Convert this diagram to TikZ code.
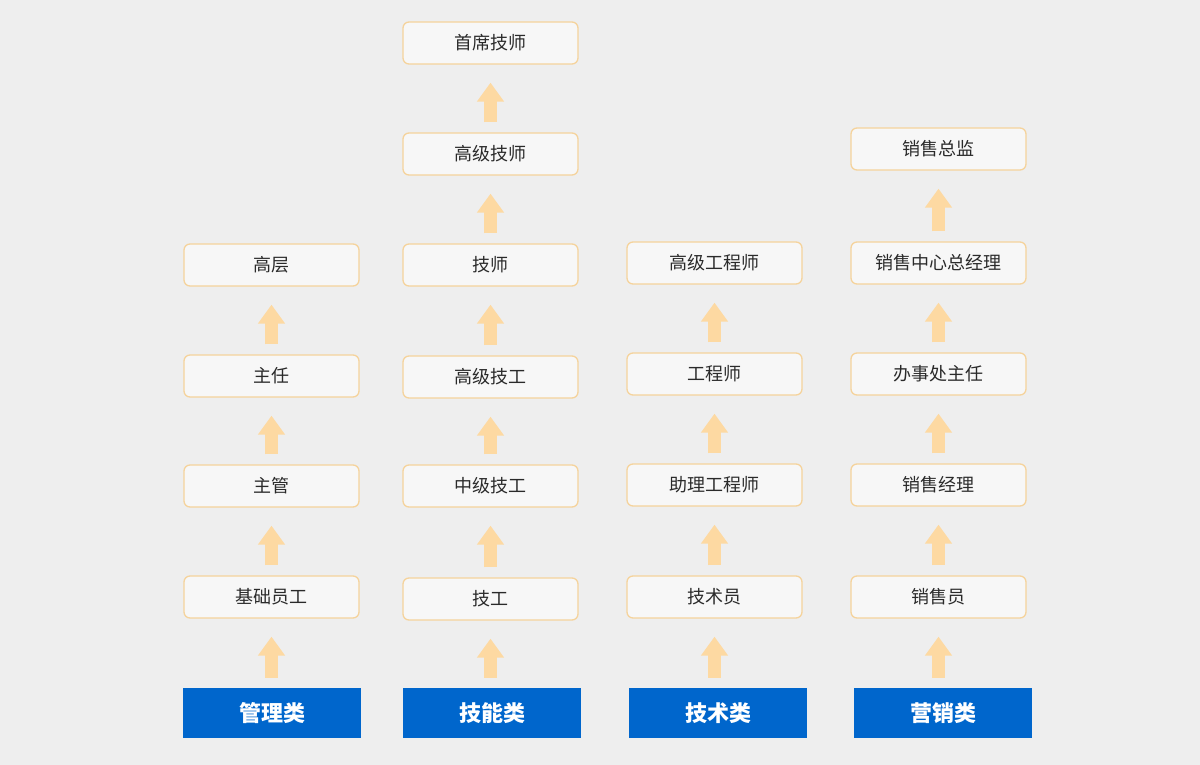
\documentclass[tikz,border=0pt]{standalone}
\usepackage{fontspec}
\newfontfamily\cjk{Noto Sans CJK SC}
\usetikzlibrary{arrows.meta}

\definecolor{bgGray}{HTML}{EEEEEE}
\definecolor{boxFill}{HTML}{F7F7F7}
\definecolor{boxLine}{HTML}{F5D39C}
\definecolor{arrowTan}{HTML}{FDD9A2}
\definecolor{headBlue}{HTML}{0066CC}
\definecolor{txtGray}{HTML}{2A2A2A}

\tikzset{
  rank/.style={rectangle, rounded corners=6pt, draw=boxLine, line width=1.3pt, fill=boxFill,
    minimum width=175pt, minimum height=42pt, inner sep=0pt, text=txtGray,
    font=\cjk\fontsize{18}{21}\selectfont},
  track/.style={rectangle, fill=headBlue, minimum width=178pt, minimum height=50pt,
    inner sep=0pt, text=white, font=\cjk\bfseries\fontsize{22}{26}\selectfont},
  promote/.style={draw=arrowTan, line width=13pt, -{Triangle[width=26pt,length=19pt]},
    shorten >=18pt, shorten <=10pt}
}

\begin{document}
\begin{tikzpicture}[x=1pt, y=-1pt]
                    \fill[bgGray] (0,0) rectangle (1200,765);
                    \useasboundingbox (0,0) rectangle (1200,765);
                    % headers
                    \node[track] (G) at (272, 713) {管理类};
                    \node[track] (J) at (492, 713) {技能类};
                    \node[track] (S) at (718, 713) {技术类};
                    \node[track] (Y) at (943, 713) {营销类};
                    % 管理类
                    \node[rank] (g1) at (271.5, 597) {基础员工};
                    \node[rank] (g2) at (271.5, 486) {主管};
                    \node[rank] (g3) at (271.5, 376) {主任};
                    \node[rank] (g4) at (271.5, 265) {高层};
                    % 技能类
                    \node[rank] (j1) at (490.5, 599) {技工};
                    \node[rank] (j2) at (490.5, 486) {中级技工};
                    \node[rank] (j3) at (490.5, 377) {高级技工};
                    \node[rank] (j4) at (490.5, 265) {技师};
                    \node[rank] (j5) at (490.5, 154) {高级技师};
                    \node[rank] (j6) at (490.5, 43) {首席技师};
                    % 技术类
                    \node[rank] (s1) at (714.5, 597) {技术员};
                    \node[rank] (s2) at (714.5, 485) {助理工程师};
                    \node[rank] (s3) at (714.5, 374) {工程师};
                    \node[rank] (s4) at (714.5, 263) {高级工程师};
                    % 营销类
                    \node[rank] (y1) at (938.5, 597) {销售员};
                    \node[rank] (y2) at (938.5, 485) {销售经理};
                    \node[rank] (y3) at (938.5, 374) {办事处主任};
                    \node[rank] (y4) at (938.5, 263) {销售中心总经理};
                    \node[rank] (y5) at (938.5, 149) {销售总监};
                    % arrows
                    \draw[promote] (g1 |- G.north) -- (g1);
                    \draw[promote] (g1) -- (g2);
                    \draw[promote] (g2) -- (g3);
                    \draw[promote] (g3) -- (g4);
                    \draw[promote] (j1 |- J.north) -- (j1);
                    \draw[promote] (j1) -- (j2);
                    \draw[promote] (j2) -- (j3);
                    \draw[promote] (j3) -- (j4);
                    \draw[promote] (j4) -- (j5);
                    \draw[promote] (j5) -- (j6);
                    \draw[promote] (s1 |- S.north) -- (s1);
                    \draw[promote] (s1) -- (s2);
                    \draw[promote] (s2) -- (s3);
                    \draw[promote] (s3) -- (s4);
                    \draw[promote] (y1 |- Y.north) -- (y1);
                    \draw[promote] (y1) -- (y2);
                    \draw[promote] (y2) -- (y3);
                    \draw[promote] (y3) -- (y4);
                    \draw[promote] (y4) -- (y5);
                \end{tikzpicture}
\end{document}
